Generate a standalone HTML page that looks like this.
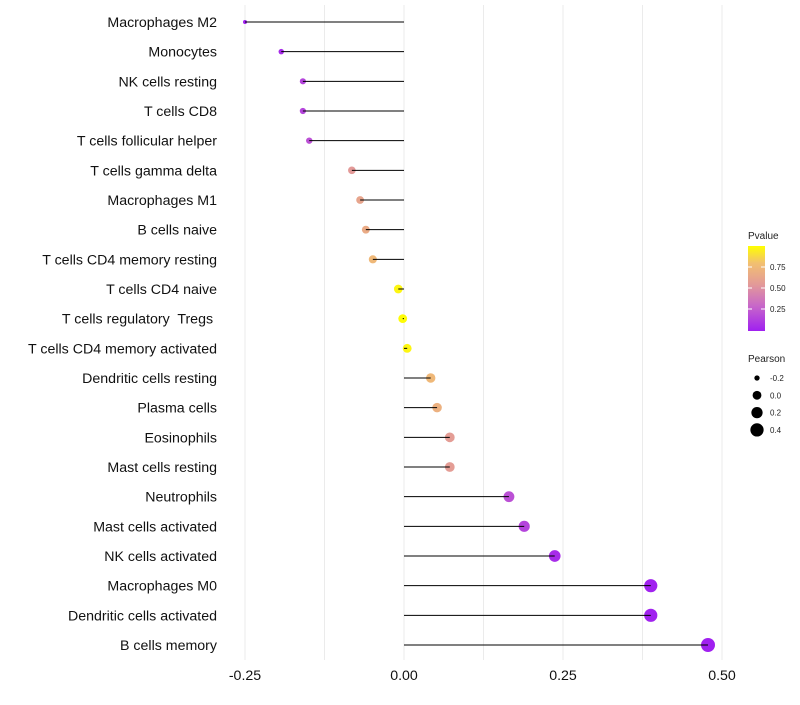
<!DOCTYPE html>
<html><head><meta charset="utf-8"><style>
body{margin:0;background:#fff;font-family:"Liberation Sans",sans-serif}
text{white-space:pre}
</style></head><body>
<svg id="chart" width="800" height="700">
<defs><linearGradient id="pg" x1="0" y1="1" x2="0" y2="0">
<stop offset="0" stop-color="#a020f0"/><stop offset="0.3" stop-color="#c868c8"/><stop offset="0.55" stop-color="#e39a98"/><stop offset="0.8" stop-color="#f2c070"/><stop offset="1" stop-color="#ffff00"/></linearGradient></defs>
<g id="grid"></g><g id="marks"></g><g id="labels"></g><g id="xticks"></g>
<g id="legend">
<text x="748" y="239" font-size="10" fill="#222">Pvalue</text>
<rect x="748" y="246" width="17" height="85" fill="url(#pg)"/>
<g id="cbticks"></g>
<text x="748" y="362" font-size="10" fill="#222">Pearson</text>
<g id="sizeleg"></g>
</g>
</svg>
<script>
const categories=["Macrophages M2","Monocytes","NK cells resting","T cells CD8","T cells follicular helper","T cells gamma delta","Macrophages M1","B cells naive","T cells CD4 memory resting","T cells CD4 naive","T cells regulatory  Tregs ","T cells CD4 memory activated","Dendritic cells resting","Plasma cells","Eosinophils","Mast cells resting","Neutrophils","Mast cells activated","NK cells activated","Macrophages M0","Dendritic cells activated","B cells memory"];
const pearson=[-0.25,-0.193,-0.159,-0.159,-0.149,-0.082,-0.069,-0.060,-0.049,-0.009,-0.002,0.005,0.042,0.052,0.072,0.072,0.165,0.189,0.237,0.388,0.388,0.478];
const pvalue=[0.0,0.05,0.15,0.15,0.2,0.55,0.62,0.66,0.75,0.97,0.99,0.97,0.75,0.7,0.57,0.57,0.2,0.15,0.05,0.01,0.01,0.001];
const xTicks=[-0.25,0,0.25,0.5];
const xTickLabels=["-0.25","0.00","0.25","0.50"];
const cbTicks=[0.25,0.5,0.75];
const sizeLegend=[-0.2,0,0.2,0.4];
const NS="http://www.w3.org/2000/svg";
const x=v=>404+v*636;
const y=i=>22+i*(623/21);
const r=v=>Math.sqrt(Math.max(1,4+(v+0.25)/0.73*45));
const cy=p=>330-p*84;
function col(p){const s=[[0,[160,32,240]],[0.3,[200,104,200]],[0.55,[227,154,152]],[0.8,[242,192,112]],[1,[255,255,0]]];
for(let k=1;k<s.length;k++){if(p<=s[k][0]){const t=(p-s[k-1][0])/(s[k][0]-s[k-1][0]);const c=s[k-1][1].map((a,j)=>Math.round(a+(s[k][1][j]-a)*t));return `rgb(${c})`;}}return "rgb(255,255,0)";}
function mk(t,a,par){const e=document.createElementNS(NS,t);for(const k in a)e.setAttribute(k,a[k]);document.getElementById(par).appendChild(e);return e;}
[-0.25,-0.125,0,0.125,0.25,0.375,0.5].forEach(v=>{const g=mk("line",{x1:x(v),x2:x(v),y1:5,y2:660,stroke:"#ebebeb","stroke-width":1},"grid");

});
categories.forEach((c,i)=>{
const d=mk("circle",{cx:x(pearson[i]),cy:y(i),r:r(pearson[i]),fill:col(pvalue[i])},"marks");


const l=mk("line",{x1:x(0),x2:x(pearson[i]),y1:y(i),y2:y(i),stroke:"#000","stroke-width":1},"marks");


const t=mk("text",{x:217,y:y(i)+5,"text-anchor":"end","font-size":14.2,fill:"#111"},"labels");t.textContent=c;

});
xTicks.forEach((v,i)=>{const t=mk("text",{x:x(v),y:680,"text-anchor":"middle","font-size":14.2,fill:"#111"},"xticks");t.textContent=xTickLabels[i];

});
cbTicks.forEach(v=>{mk("line",{x1:748,x2:752,y1:cy(v),y2:cy(v),stroke:"#fff"},"cbticks");mk("line",{x1:761,x2:765,y1:cy(v),y2:cy(v),stroke:"#fff"},"cbticks");
const t=mk("text",{x:770,y:cy(v)+3,"font-size":8,fill:"#222"},"cbticks");t.textContent=v.toFixed(2);

});
sizeLegend.forEach((v,i)=>{const yy=378+i*17.3;mk("circle",{cx:757,cy:yy,r:r(v),fill:"#000"},"sizeleg");
const t=mk("text",{x:770,y:yy+3,"font-size":8,fill:"#222"},"sizeleg");t.textContent=v.toFixed(1);

});
</script>
</body></html>
